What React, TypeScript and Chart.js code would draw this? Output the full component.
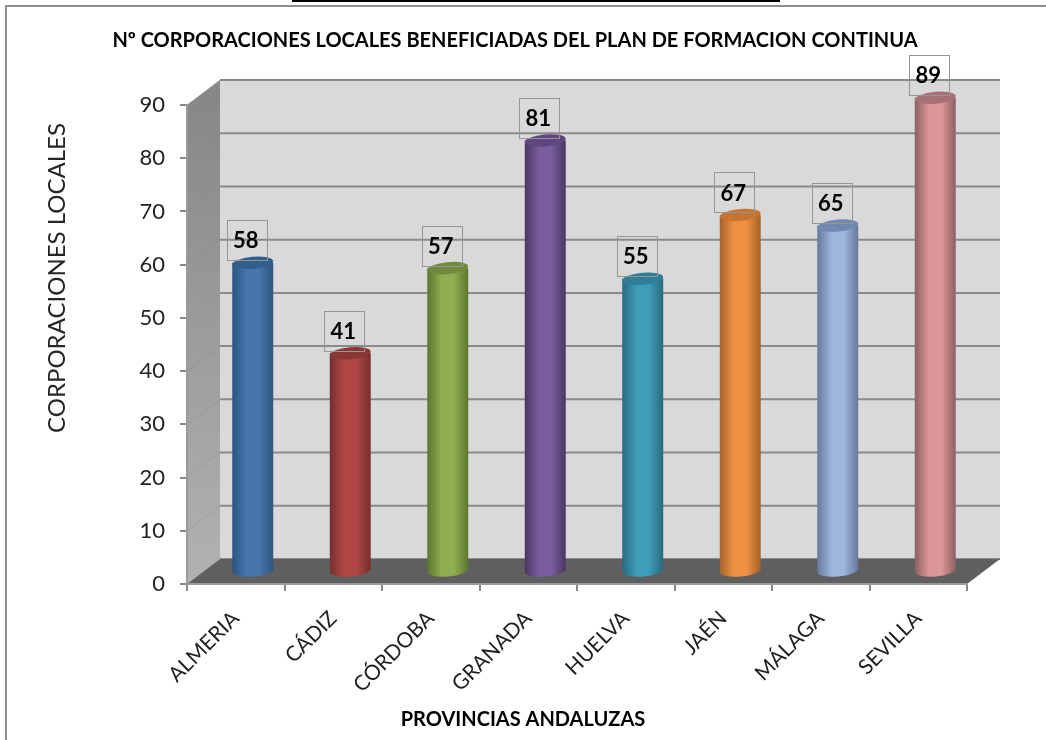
import React, { useEffect, useRef } from "react";
import { Chart, registerables } from "chart.js";

Chart.register(...registerables);

const provinces = ["ALMERIA", "CÁDIZ", "CÓRDOBA", "GRANADA", "HUELVA", "JAÉN", "MÁLAGA", "SEVILLA"];
const corporaciones = [58, 41, 57, 81, 55, 67, 65, 89];
const barEdge = ["#2c557f", "#752f2d", "#5c7530", "#4a3664", "#28697d", "#a5622a", "#66799b", "#8d6060"];
const barMid = ["#4676ad", "#b04744", "#90ae50", "#7a5d9c", "#3f9db8", "#ef9144", "#9db6dc", "#dc979a"];
const barCap = ["#305f8c", "#8a3835", "#6f8a3c", "#5f4680", "#2f7f96", "#c67430", "#7189b0", "#a97073"];

const chartTitle = "Nº CORPORACIONES LOCALES BENEFICIADAS DEL PLAN DE FORMACION CONTINUA";
const xTitle = "PROVINCIAS ANDALUZAS";
const yTitle = "CORPORACIONES LOCALES";

const FONT = "Lato, Carlito, sans-serif";
const DX = 33;
const DY = -25;
const GRID = "#8a8a8a";

const stage: any = {
  id: "stage",
  beforeDraw(chart: any) {
    const { ctx, chartArea: a, scales } = chart;
    const y = scales.y;
    ctx.save();
    ctx.fillStyle = "#ffffff";
    ctx.fillRect(0, 0, chart.width, chart.height);
    // page rule and frame
    ctx.fillStyle = "#000000";
    ctx.fillRect(292, 0, 488, 2);
    ctx.strokeStyle = "#8f8f8f";
    ctx.lineWidth = 2;
    ctx.beginPath();
    ctx.moveTo(6, chart.height);
    ctx.lineTo(6, 6);
    ctx.lineTo(chart.width, 6);
    ctx.stroke();
    // back wall
    ctx.fillStyle = "#d9d9d9";
    ctx.fillRect(a.left + DX, a.top + DY, a.width, a.height);
    // side wall
    const g = ctx.createLinearGradient(0, a.top, 0, a.bottom);
    g.addColorStop(0, "#888888");
    g.addColorStop(1, "#b2b2b2");
    ctx.fillStyle = g;
    ctx.beginPath();
    ctx.moveTo(a.left, a.top);
    ctx.lineTo(a.left + DX, a.top + DY);
    ctx.lineTo(a.left + DX, a.bottom + DY);
    ctx.lineTo(a.left, a.bottom);
    ctx.closePath();
    ctx.fill();
    // wall grid
    for (const t of y.ticks) {
      const py = y.getPixelForValue(t.value);
      ctx.strokeStyle = "rgba(120,120,120,0.25)";
      ctx.lineWidth = 1;
      ctx.beginPath();
      ctx.moveTo(a.left, py);
      ctx.lineTo(a.left + DX, py + DY);
      ctx.stroke();
      ctx.strokeStyle = GRID;
      ctx.lineWidth = 2;
      ctx.beginPath();
      ctx.moveTo(a.left + DX, py + DY);
      ctx.lineTo(a.right + DX, py + DY);
      ctx.stroke();
    }
    // floor
    ctx.fillStyle = "#5f5f5f";
    ctx.beginPath();
    ctx.moveTo(a.left, a.bottom);
    ctx.lineTo(a.left + DX, a.bottom + DY);
    ctx.lineTo(a.right + DX, a.bottom + DY);
    ctx.lineTo(a.right, a.bottom);
    ctx.closePath();
    ctx.fill();
    ctx.restore();
  },
  beforeDatasetDraw(chart: any, args: any) {
    const { ctx } = chart;
    ctx.save();
    ctx.translate((DX + 1) / 2, DY / 2);
    args.meta.data.forEach((bar: any, i: number) => {
      const r = bar.width / 2;
      ctx.fillStyle = barGradient(chart, i);
      ctx.beginPath();
      ctx.ellipse(bar.x, bar.base, r, 6, -0.09, 0, Math.PI * 2);
      ctx.fill();
    });
  },
  afterDatasetDraw(chart: any, args: any) {
    const { ctx } = chart;
    args.meta.data.forEach((bar: any, i: number) => {
      const r = bar.width / 2;
      ctx.fillStyle = barCap[i];
      ctx.beginPath();
      ctx.ellipse(bar.x, bar.y, r, 6, -0.09, 0, Math.PI * 2);
      ctx.fill();
    });
    ctx.restore();
  },
  afterDatasetsDraw(chart: any) {
    const { ctx, scales } = chart;
    ctx.save();
    corporaciones.forEach((v, i) => {
      const cx = scales.x.getPixelForTick(i) + 11;
      const cy = scales.y.getPixelForValue(v) - 35;
      ctx.strokeStyle = "#959595";
      ctx.lineWidth = 1;
      ctx.strokeRect(Math.round(cx - 20) + 0.5, Math.round(cy - 20) + 0.5, 40, 40);
      ctx.fillStyle = "#000000";
      ctx.font = `bold 22px ${FONT}`;
      ctx.textAlign = "center";
      ctx.textBaseline = "middle";
      ctx.fillText(String(v), cx - 1, cy + 1);
    });
    ctx.restore();
  },
  afterDraw(chart: any) {
    const { ctx } = chart;
    ctx.save();
    ctx.textAlign = "center";
    ctx.textBaseline = "middle";
    ctx.fillStyle = "#000000";
    ctx.font = `bold 20px ${FONT}`;
    ctx.fillText(xTitle, 523, 720);
    ctx.fillStyle = "#262626";
    ctx.font = `24px ${FONT}`;
    ctx.translate(57, 278);
    ctx.rotate(-Math.PI / 2);
    ctx.fillText(yTitle, 0, 0);
    ctx.restore();
  },
};

function barGradient(chart: any, i: number) {
  const cx = chart.scales.x.getPixelForTick(i);
  const half = 20.5;
  const g = chart.ctx.createLinearGradient(cx - half, 0, cx + half, 0);
  g.addColorStop(0, barEdge[i]);
  g.addColorStop(0.35, barMid[i]);
  g.addColorStop(0.65, barMid[i]);
  g.addColorStop(1, barEdge[i]);
  return g;
}

export default function App() {
  const ref = useRef<HTMLCanvasElement>(null);
  useEffect(() => {
    const chart = new Chart(ref.current as HTMLCanvasElement, {
      type: "bar",
      data: {
        labels: provinces,
        datasets: [
          {
            label: yTitle,
            data: corporaciones,
            clip: false,
            barPercentage: 0.42,
            categoryPercentage: 1,
            backgroundColor: (c: any) =>
              c.chart.chartArea && c.dataIndex !== undefined ? barGradient(c.chart, c.dataIndex) : barMid[c.dataIndex ?? 0],
          } as any,
        ],
      },
      options: {
        responsive: false,
        animation: false,
        layout: { padding: { left: 63, right: 79, top: 0, bottom: 0 } },
        plugins: {
          legend: { display: false },
          tooltip: { enabled: false },
          title: {
            display: true,
            text: chartTitle,
            color: "#000000",
            font: { family: FONT, size: 20, weight: "bold", lineHeight: 1.2 },
            padding: { top: 29, bottom: 52 },
          },
        },
        scales: {
          x: {
            afterFit: (s: any) => {
              s.height = 156;
            },
            grid: { drawOnChartArea: false, color: GRID, lineWidth: 2, tickLength: 7 },
            border: { color: "#9a9a9a", width: 2 },
            ticks: {
              minRotation: 45,
              maxRotation: 45,
              color: "#1f1f1f",
              padding: 15,
              font: { family: FONT, size: 21 },
            },
          },
          y: {
            min: 0,
            max: 90,
            afterFit: (s: any) => {
              s.width = 124;
            },
            grid: { drawOnChartArea: false, color: GRID, lineWidth: 2, tickLength: 7 },
            border: { color: "#9a9a9a", width: 2 },
            ticks: {
              stepSize: 10,
              color: "#1f1f1f",
              padding: 15,
              font: { family: FONT, size: 22 },
            },
          },
        },
      },
      plugins: [stage],
    } as any);
    return () => chart.destroy();
  }, []);
  return (
    <div style={{ position: "fixed", left: 0, top: 0, width: 1046, height: 740 }}>
      <canvas ref={ref} width={1046} height={740} style={{ display: "block" }} />
    </div>
  );
}
